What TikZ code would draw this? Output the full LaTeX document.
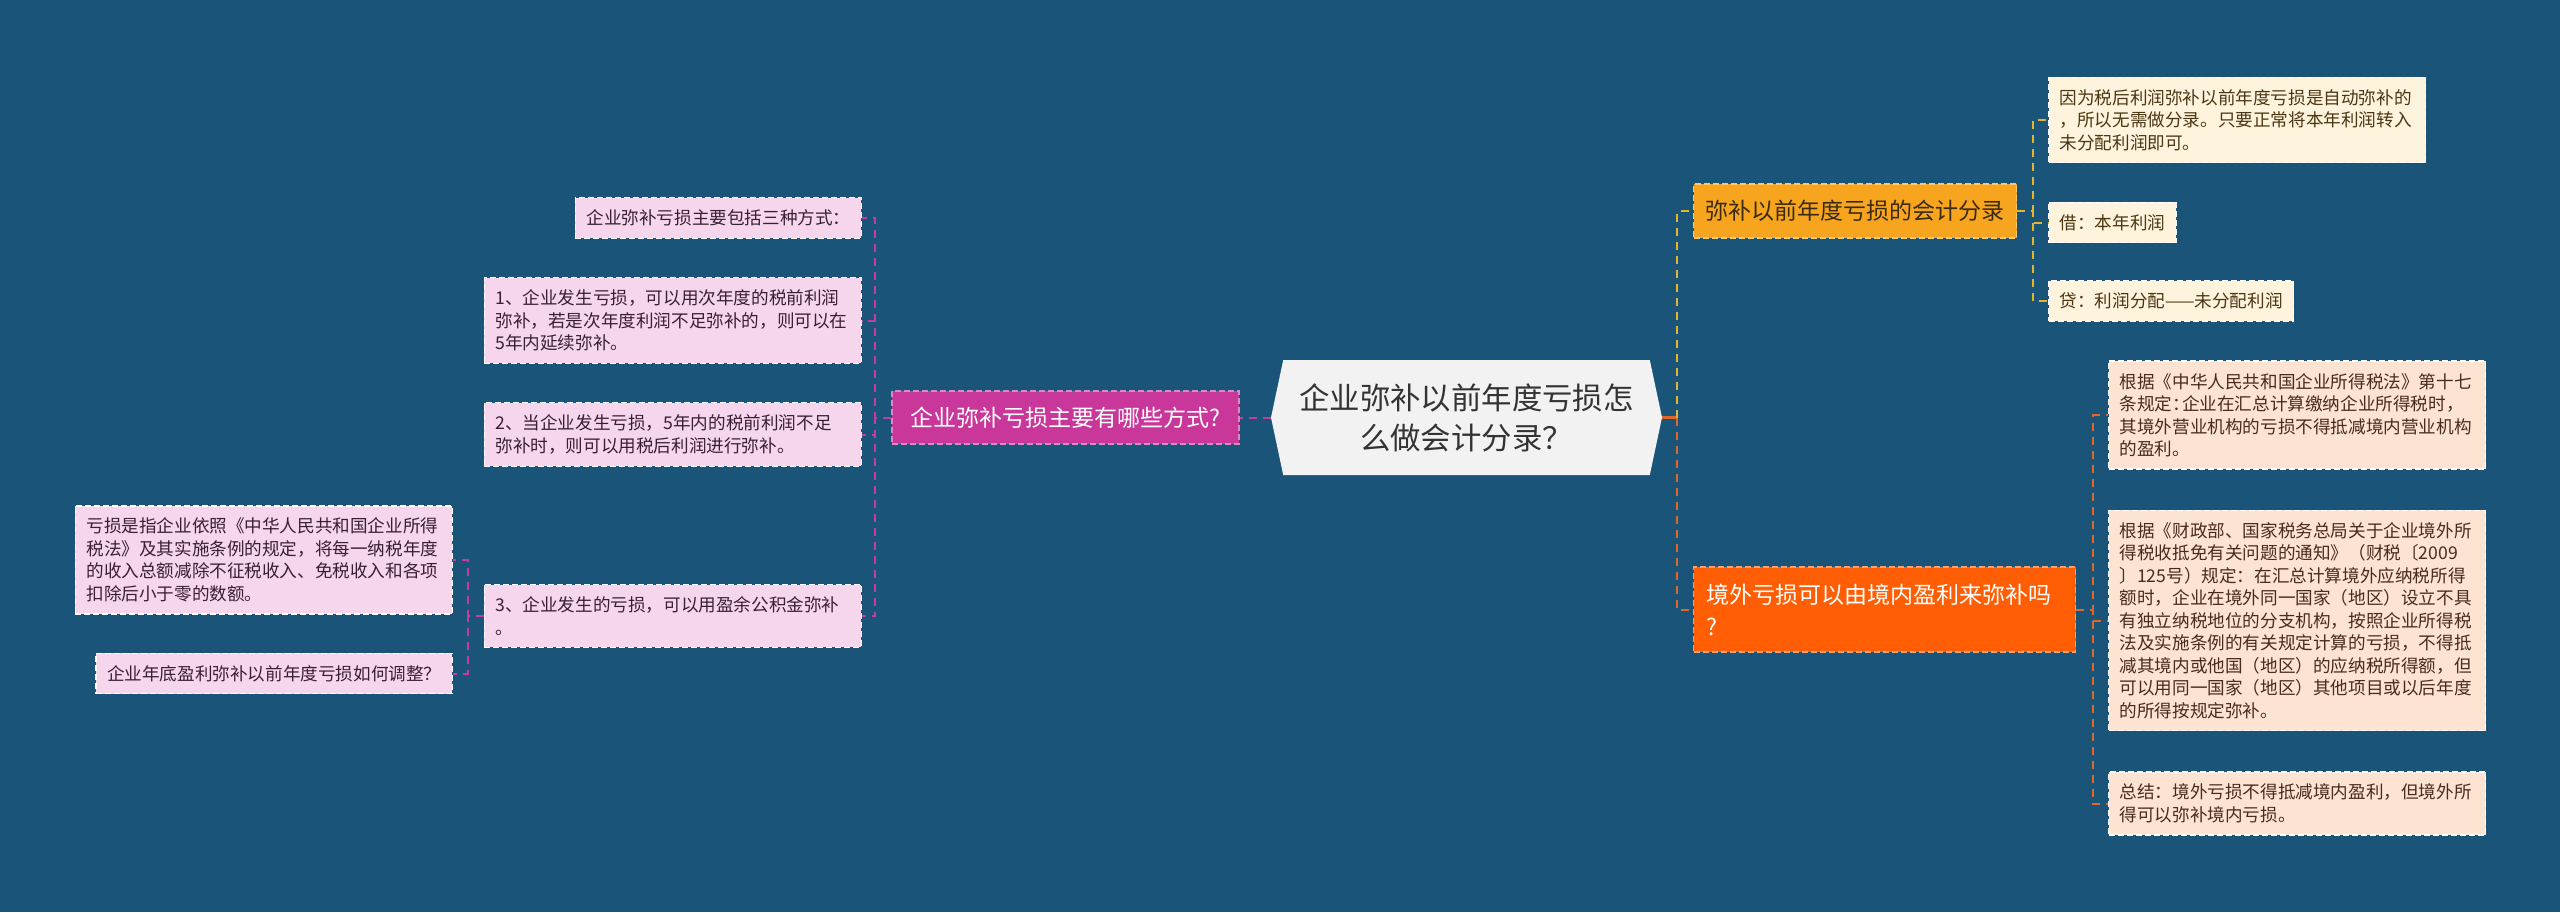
\documentclass[tikz,border=0pt]{standalone}
\usepackage{fontspec}
\setmainfont{Noto Sans CJK SC}
\usepackage{tikz}
\usetikzlibrary{positioning,shapes.symbols}
\definecolor{LossBg}{HTML}{1B5479}
\definecolor{LossCore}{HTML}{F2F2F2}
\definecolor{LossMagenta}{HTML}{C9379B}
\definecolor{LossPink}{HTML}{F6D6EC}
\definecolor{LossPinkText}{HTML}{3A1F33}
\definecolor{LossAmber}{HTML}{F7A51E}
\definecolor{LossAmberText}{HTML}{3A2A10}
\definecolor{LossCream}{HTML}{FEF3DC}
\definecolor{LossCreamText}{HTML}{4B3713}
\definecolor{LossOrange}{HTML}{FF5E05}
\definecolor{LossPeach}{HTML}{FDE3D2}
\definecolor{LossPeachText}{HTML}{4A2B1C}
\definecolor{LossLinkM}{HTML}{C33C9E}
\definecolor{LossLinkY}{HTML}{E6B52F}
\definecolor{LossLinkO}{HTML}{E0662B}
\tikzset{
  lbox/.style={draw=white,dash pattern=on 3pt off 1.5pt,line width=0.6pt,
    inner xsep=5.5pt,inner ysep=6pt,font=\fontsize{8.8}{11.25}\selectfont},
  lleaf/.style={lbox,align=left,text width=177.5pt},
  lpink/.style={fill=LossPink,text=LossPinkText},
  lcream/.style={fill=LossCream,text=LossCreamText},
  lpeach/.style={fill=LossPeach,text=LossPeachText},
  lbranch/.style={lbox,inner xsep=8pt,inner ysep=0pt,font=\fontsize{11.5}{16}\selectfont},
  llink/.style={line width=1pt,dash pattern=on 4pt off 3pt},
  lstub/.style={line width=1.2pt,LossLinkO}
}

\begin{document}
\begin{tikzpicture}[x=0.5pt,y=-0.5pt]
  \tikzset{
    lcore/.style={signal,signal to=east and west,signal pointer angle=156,fill=LossCore,
      text=black!80,align=center,minimum width=195.5pt,minimum height=57.5pt,inner sep=0pt,
      font=\fontsize{15.2}{20}\selectfont}
  }
  \fill[LossBg] (0,0) rectangle (2560,912);

  \node[lcore] (core) at (1466.5,417.5) {企业弥补以前年度亏损怎\\么做会计分录？};

  % left branch
  \node[lbranch,fill=LossMagenta,draw=LossMagenta!60!white,text=white,
    minimum width=173.5pt,minimum height=26.5pt,left=15.5pt of core] (ways)
    {企业弥补亏损主要有哪些方式?};
  \node[lbox,lpink,anchor=east] (summary) at (862,218) {企业弥补亏损主要包括三种方式：};
  \node[lleaf,lpink,anchor=east] (nextyear) at (862,320.5)
    {1、企业发生亏损，可以用次年度的税前利润\\弥补，若是次年度利润不足弥补的，则可以在\\5年内延续弥补。};
  \node[lleaf,lpink,anchor=east] (aftertax) at (862,434.5)
    {2、当企业发生亏损，5年内的税前利润不足\\弥补时，则可以用税后利润进行弥补。};
  \node[lleaf,lpink,anchor=east] (reserve) at (862,616)
    {3、企业发生的亏损，可以用盈余公积金弥补\\。};
  \node[lleaf,lpink,anchor=east] (lossdef) at (453,560)
    {亏损是指企业依照《中华人民共和国企业所得\\税法》及其实施条例的规定，将每一纳税年度\\的收入总额减除不征税收入、免税收入和各项\\扣除后小于零的数额。};
  \node[lbox,lpink,anchor=east] (yearend) at (453,673.5) {企业年底盈利弥补以前年度亏损如何调整？};

  % right branches
  \node[lbranch,fill=LossAmber,draw=LossAmber!60!white,text=LossAmberText,
    inner xsep=6pt,minimum width=161.5pt,minimum height=27pt,anchor=west] (entry)
    at (1693,211) {弥补以前年度亏损的会计分录};
  \node[lleaf,lcream,anchor=west] (autofill) at (2048,120)
    {因为税后利润弥补以前年度亏损是自动弥补的\\，所以无需做分录。只要正常将本年利润转入\\未分配利润即可。};
  \node[lbox,lcream,anchor=west] (debit) at (2048,222.5) {借：本年利润};
  \node[lbox,lcream,anchor=west] (credit) at (2048,301) {贷：利润分配——未分配利润};

  \node[lbranch,fill=LossOrange,draw=LossOrange!60!white,text=white,align=left,
    text width=178pt,inner xsep=6.5pt,minimum height=42.5pt,anchor=west] (abroad)
    at (1693,609.5) {境外亏损可以由境内盈利来弥补吗\\?};
  \node[lleaf,lpeach,anchor=west] (lawart) at (2108,415)
    {根据《中华人民共和国企业所得税法》第十七\\条规定：\kern-0.45em 企业在汇总计算缴纳企业所得税时，\\其境外营业机构的亏损不得抵减境内营业机构\\的盈利。};
  \node[lleaf,lpeach,anchor=west] (notice) at (2108,620.5)
    {根据《财政部、国家税务总局关于企业境外所\\得税收抵免有关问题的通知》（财税〔2009\\〕125号）规定：在汇总计算境外应纳税所得\\额时，企业在境外同一国家（地区）设立不具\\有独立纳税地位的分支机构，按照企业所得税\\法及实施条例的有关规定计算的亏损，不得抵\\减其境内或他国（地区）的应纳税所得额，但\\可以用同一国家（地区）其他项目或以后年度\\的所得按规定弥补。};
  \node[lleaf,lpeach,anchor=west] (conclude) at (2108,803.5)
    {总结：境外亏损不得抵减境内盈利，但境外所\\得可以弥补境内亏损。};

  % connectors
  \draw[llink,LossLinkM] (core.west) -- (ways.east);
  \foreach \leaf in {summary,nextyear,aftertax,reserve}
    \draw[llink,LossLinkM] (ways.west) -- ++(-16,0) |- (\leaf.east);
  \foreach \leaf in {lossdef,yearend}
    \draw[llink,LossLinkM] (reserve.west) -- ++(-16,0) |- (\leaf.east);
  \draw[lstub] (core.east) -- ++(15,0) coordinate (rbus);
  \draw[llink,LossLinkY] (rbus) |- (entry.west);
  \draw[llink,LossLinkO] (rbus) |- (abroad.west);
  \foreach \leaf in {autofill,debit,credit}
    \draw[llink,LossLinkY] (entry.east) -- ++(16,0) |- (\leaf.west);
  \foreach \leaf in {lawart,notice,conclude}
    \draw[llink,LossLinkO] (abroad.east) -- ++(17,0) |- (\leaf.west);
\end{tikzpicture}
\end{document}
